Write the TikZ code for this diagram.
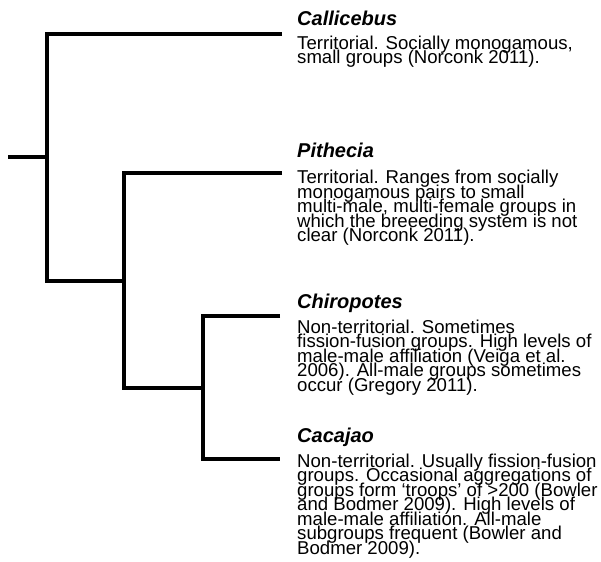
\documentclass[tikz,border=0pt]{standalone}
\usepackage{fontspec}
\setmainfont{Liberation Sans}

\newcommand{\notesfont}{\fontsize{18.6}{14.5}\selectfont\setlength{\lineskiplimit}{-50pt}\relax}

\tikzset{
  branch/.style={line width=4pt, line join=miter},
  genus/.style={anchor=base west, inner sep=0pt, font=\fontsize{20}{20}\selectfont\bfseries\itshape},
  % base of a multi-line node is its last line
  notes/.style={anchor=base west, inner sep=0pt, align=left, font=\notesfont}
}

\begin{document}
\begin{tikzpicture}[x=1pt, y=-1pt]
            \useasboundingbox (0,0) rectangle (601,561);
            % tree
            \coordinate (root) at (8,157);
            \coordinate (n1) at (47,157);
            \coordinate (n2) at (124,281);
            \coordinate (n3) at (203,388);
            \coordinate (callicebus) at (282,34);
            \coordinate (pithecia) at (282,173);
            \coordinate (chiropotes) at (280,316);
            \coordinate (cacajao) at (280,459);
            \draw[branch] (root) -- (n1);
            \draw[branch] (callicebus) -| (n1) |- (n2);
            \draw[branch] (pithecia) -| (n2) |- (n3);
            \draw[branch] (chiropotes) -| (n3) |- (cacajao);
            % labels
            \node[genus] (callicebus-t) at (297,26) {Callicebus};
            \node[notes] (callicebus-d) at (297,64) {Territorial. Socially monogamous,\\small groups (Norconk 2011).};
            \node[genus] (pithecia-t) at (297,157.5) {Pithecia};
            \node[notes] (pithecia-d) at (297,241.5) {Territorial. Ranges from socially\\monogamous pairs to small\\multi-male, multi-female groups in\\which the breeeding system is not\\clear (Norconk 2011).};
            \node[genus] (chiropotes-t) at (297,308) {Chiropotes};
            \node[notes] (chiropotes-d) at (297,391) {Non-territorial. Sometimes\\fission-fusion groups. High levels of\\male-male affiliation (Veiga et al.\\2006). All-male groups sometimes\\occur (Gregory 2011).};
            \node[genus] (cacajao-t) at (297,442) {Cacajao};
            \node[notes] (cacajao-d) at (297,554) {Non-territorial. Usually fission-fusion\\groups. Occasional aggregations of\\groups form `troops' of >200 (Bowler\\and Bodmer 2009). High levels of\\male-male affiliation. All-male\\subgroups frequent (Bowler and\\Bodmer 2009).};
        \end{tikzpicture}
\end{document}
